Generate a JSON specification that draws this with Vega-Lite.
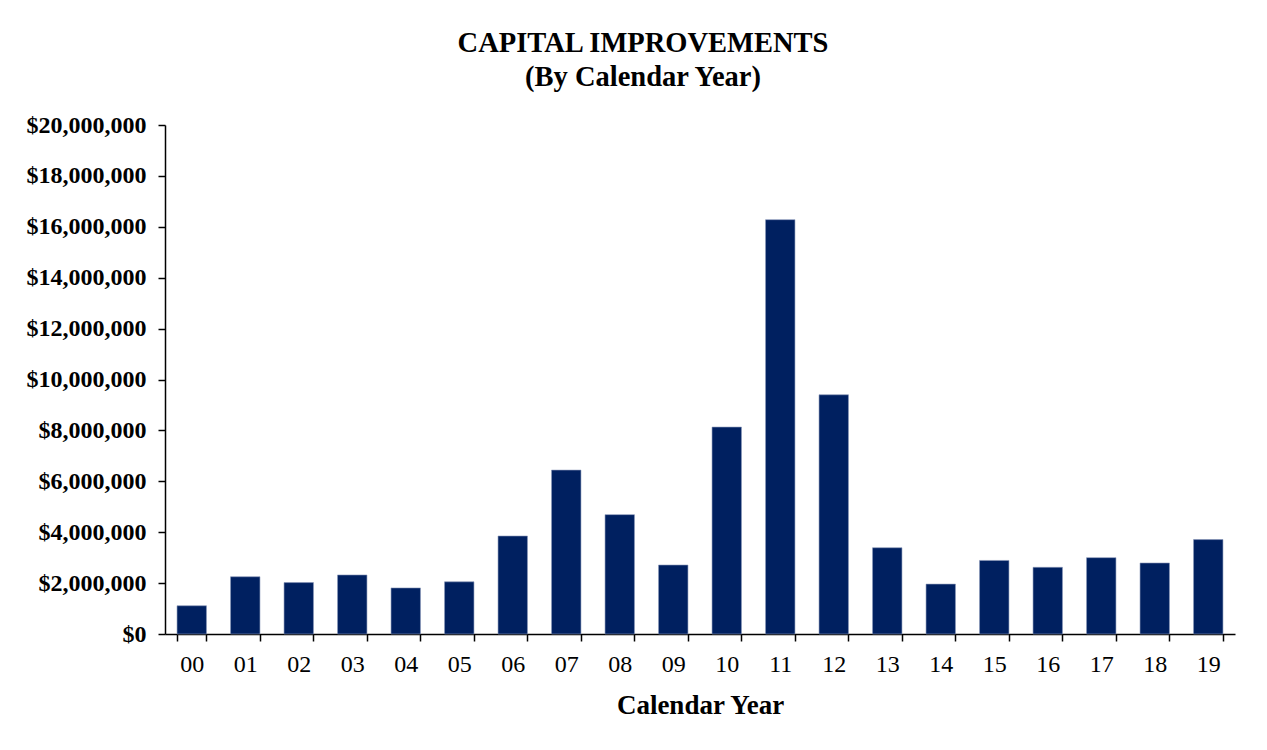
{
  "$schema": "https://vega.github.io/schema/vega-lite/v6.json",
  "width": 1070,
  "height": 509,
  "autosize": {"type": "none"},
  "padding": {"left": 165, "top": 125, "right": 32, "bottom": 116},
  "background": "white",
  "title": {
    "text": ["CAPITAL IMPROVEMENTS", "(By Calendar Year)"],
    "font": "Liberation Serif",
    "fontSize": 28.5,
    "fontWeight": "bold",
    "lineHeight": 34,
    "color": "black",
    "anchor": "middle",
    "frame": "group",
    "dx": -57,
    "offset": 22
  },
  "data": {
    "values": [
      {"year": "00", "amount": 1110000},
      {"year": "01", "amount": 2250000},
      {"year": "02", "amount": 2020000},
      {"year": "03", "amount": 2320000},
      {"year": "04", "amount": 1810000},
      {"year": "05", "amount": 2050000},
      {"year": "06", "amount": 3850000},
      {"year": "07", "amount": 6440000},
      {"year": "08", "amount": 4690000},
      {"year": "09", "amount": 2710000},
      {"year": "10", "amount": 8130000},
      {"year": "11", "amount": 16280000},
      {"year": "12", "amount": 9400000},
      {"year": "13", "amount": 3390000},
      {"year": "14", "amount": 1960000},
      {"year": "15", "amount": 2890000},
      {"year": "16", "amount": 2620000},
      {"year": "17", "amount": 3000000},
      {"year": "18", "amount": 2790000},
      {"year": "19", "amount": 3710000}
    ]
  },
  "mark": {"type": "bar", "color": "#002060", "stroke": "#8a97b8", "strokeWidth": 0.6},
  "encoding": {
    "x": {
      "field": "year",
      "type": "ordinal",
      "sort": null,
      "scale": {"paddingInner": 0.45, "paddingOuter": 0.225},
      "axis": {
        "title": "Calendar Year",
        "titleFont": "Liberation Serif",
        "titleFontSize": 27,
        "titleFontWeight": "bold",
        "titleColor": "black",
        "titlePadding": 16,
        "labelFont": "Liberation Serif",
        "labelFontSize": 24,
        "labelColor": "black",
        "labelAngle": 0,
        "labelPadding": 11,
        "tickBand": "extent",
        "tickSize": 7,
        "tickColor": "black",
        "tickWidth": 1.5,
        "domainColor": "black",
        "domainWidth": 1.5
      }
    },
    "y": {
      "field": "amount",
      "type": "quantitative",
      "scale": {"domain": [0, 20000000], "nice": false},
      "axis": {
        "title": null,
        "format": "$,.0f",
        "values": [0, 2000000, 4000000, 6000000, 8000000, 10000000, 12000000, 14000000, 16000000, 18000000, 20000000],
        "grid": false,
        "labelFont": "Liberation Serif",
        "labelFontSize": 24,
        "labelFontWeight": "bold",
        "labelColor": "black",
        "labelPadding": 12,
        "tickSize": 7,
        "tickColor": "black",
        "tickWidth": 1.5,
        "domainColor": "black",
        "domainWidth": 1.5
      }
    }
  },
  "config": {
    "view": {"stroke": null}
  }
}
